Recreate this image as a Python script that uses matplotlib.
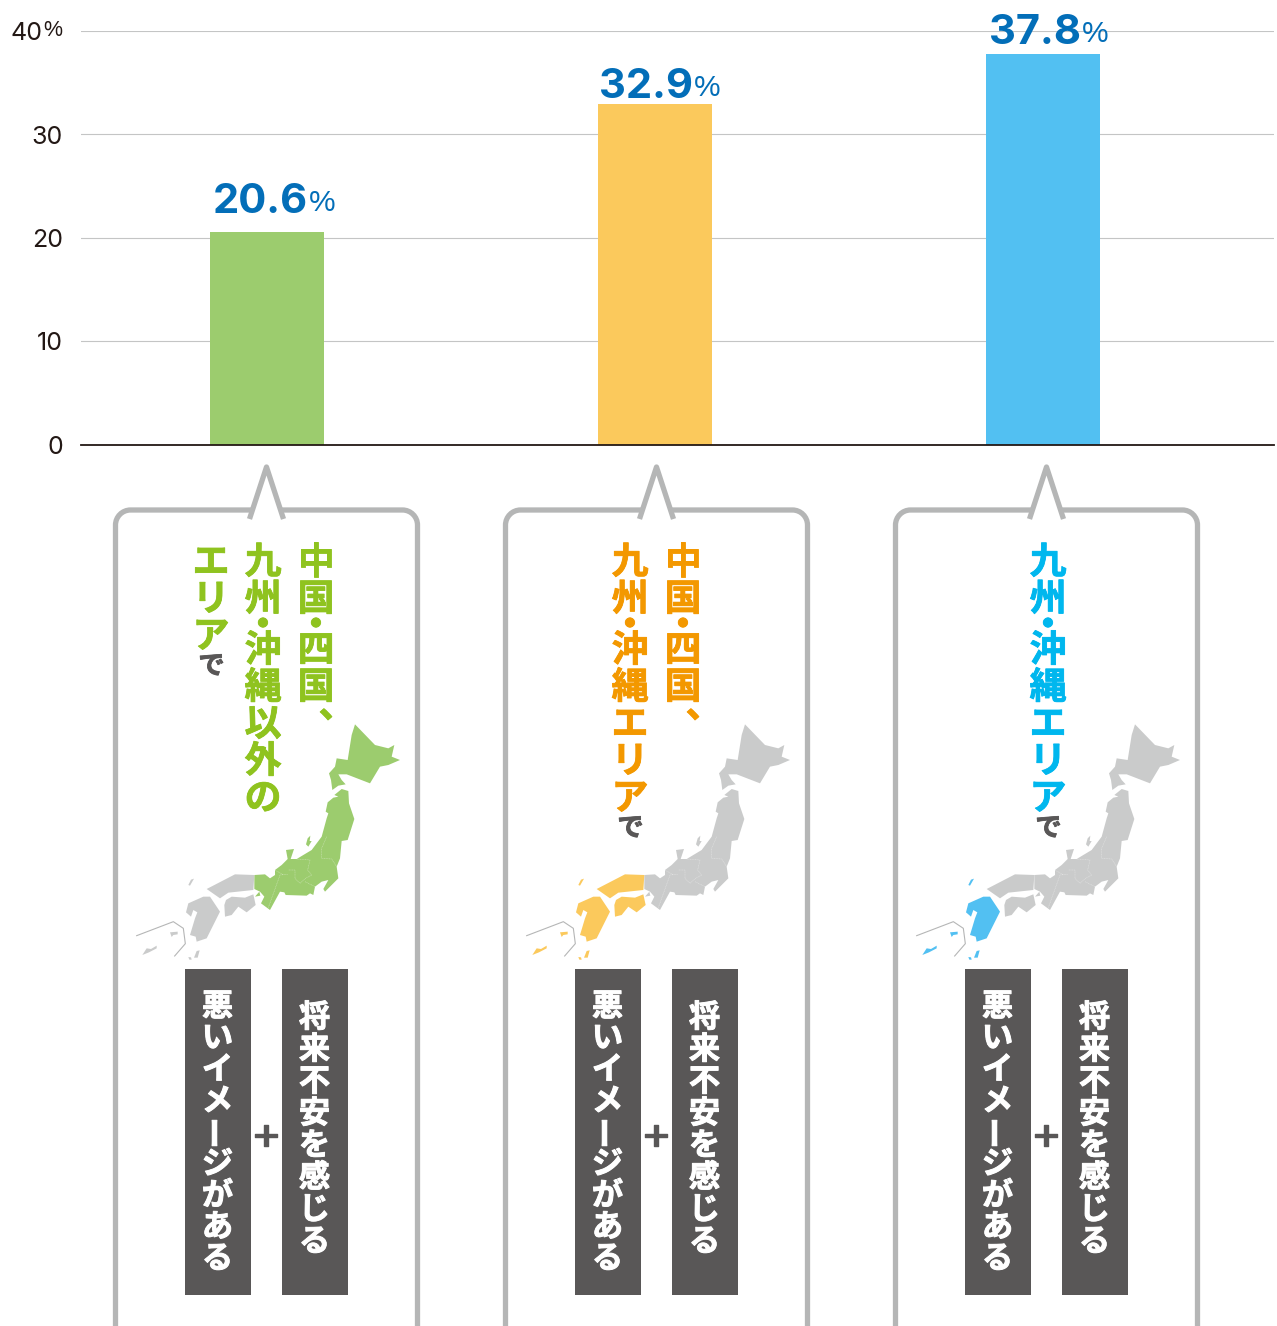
import matplotlib
matplotlib.use("Agg")
import matplotlib.pyplot as plt
import matplotlib.patheffects as pe
from matplotlib.patches import Polygon, PathPatch, Rectangle
from matplotlib.path import Path
from matplotlib.transforms import blended_transform_factory, IdentityTransform

W, H = 1277, 1326
JP = ["Noto Sans CJK JP", "DejaVu Sans"]
LATIN = "Inter"
PERCENT = "Liberation Sans"

# Chart data
regions = ["Other", "Chugoku-Shikoku-Kyushu-Okinawa", "Kyushu-Okinawa"]
rates = [20.6, 32.9, 37.8]
rate_labels = ["20.6", "32.9", "37.8"]
bar_colors = ["#9ccc6e", "#fbc95c", "#52c0f2"]
y_ticks = [0, 10, 20, 30, 40]
y_tick_labels = ["0", "10", "20", "30", "40"]

# Callout text, one list of columns per panel (right to left)
area_columns = [
    ["中国・四国、", "九州・沖縄以外の", "エリアで"],
    ["中国・四国、", "九州・沖縄エリアで"],
    ["九州・沖縄エリアで"],
]
area_colors = ["#8fc31f", "#f39800", "#00b7ee"]
cond_left = "悪いイメージがある"
cond_right = "将来不安を感じる"

GRAY_MAP = "#cacbcb"
# Map colour per panel: main island east, Chugoku + Shikoku, Kyushu + islands
map_tints = [
    ["#9ccc6e", GRAY_MAP, GRAY_MAP],
    [GRAY_MAP, "#fbc95c", "#fbc95c"],
    [GRAY_MAP, GRAY_MAP, "#52c0f2"],
]

# Outline of the Japan map, in units of 1/3 px
HOKKAIDO = [(690, 28), (750, 90), (790, 100), (808, 90), (800, 125), (825, 135), (790, 150),
            (765, 155), (735, 205), (665, 178), (640, 178), (650, 195), (662, 208), (640, 212),
            (622, 225), (618, 195), (612, 175), (630, 155), (635, 130), (668, 135), (680, 60)]
HONSHU_EAST = [(628, 240), (650, 222), (670, 228), (672, 265), (688, 312), (668, 375), (650, 378),
               (645, 430), (635, 455), (640, 490), (600, 530), (595, 522), (610, 495), (590, 500),
               (570, 515), (565, 540), (555, 535), (545, 542), (482, 540), (478, 532), (465, 530),
               (435, 585), (408, 565), (418, 545), (405, 530), (388, 522), (388, 480), (420, 478),
               (435, 490), (450, 480), (450, 465), (470, 450), (488, 432), (483, 405), (507, 402),
               (497, 432), (515, 432), (560, 405), (590, 365), (605, 310), (610, 295), (602, 290),
               (608, 262), (625, 248), (640, 245)]
SADO = [(543, 388), (548, 370), (556, 362), (554, 378), (560, 378), (550, 395)]
AWAJI = [(390, 545), (403, 530), (406, 542)]
CHUGOKU = [(388, 480), (330, 478), (245, 522), (285, 550), (310, 533), (385, 525)]
SHIKOKU = [(298, 570), (303, 555), (320, 545), (360, 548), (385, 538), (392, 570), (365, 592),
           (340, 575), (320, 600), (300, 605)]
KYUSHU = [(183, 592), (190, 565), (235, 545), (255, 545), (285, 590), (245, 670), (215, 680),
          (212, 665), (195, 660), (210, 610), (217, 592), (205, 585), (198, 605)]
TSUSHIMA = [(190, 510), (198, 494), (207, 491), (195, 512)]
ISLES = [
    [(135, 652), (158, 650), (158, 658), (145, 660), (140, 666)],
    [(52, 720), (65, 700), (78, 702), (95, 692), (95, 700), (72, 712)],
    [(207, 728), (215, 708), (224, 706), (218, 728)],
    [(190, 726), (198, 727), (200, 734), (193, 734)],
]
OKINAWA_FRAME = [(35, 662), (145, 620), (175, 640), (181, 686), (149, 723)]
PREF_LINES = [
    [(605, 365), (590, 400), (590, 430), (620, 432), (635, 455)],
    [(430, 578), (465, 480), (488, 478)],
    [(515, 432), (555, 435), (548, 465), (560, 480), (542, 490), (525, 505), (510, 490),
     (510, 465), (490, 465)],
    [(540, 500), (570, 515)],
    [(450, 465), (475, 480)],
]

fig = plt.figure(figsize=(W / 100, H / 100), dpi=100, facecolor="white")

# Bar chart
ax = fig.add_axes([81 / W, 1 - 445 / H, (1274 - 81) / W, (445 - 31) / H])
ax.set_xlim(-0.4794, 2.5954)
ax.set_ylim(0, 40)
ax.bar(range(len(rates)), rates, width=0.294, color=bar_colors, zorder=3)
ax.set_xticks([])
ax.set_yticks(y_ticks)
ax.set_yticklabels(y_tick_labels, fontfamily=LATIN, fontsize=18, color="#231815")
ax.tick_params(axis="y", length=0, pad=13)
ax.yaxis.get_major_ticks()[-1].set_pad(28)
ax.grid(axis="y", color="#c4c5c5", lw=0.8, zorder=0)
ax.set_axisbelow(True)
for side in ("top", "left", "right"):
    ax.spines[side].set_visible(False)
ax.spines["bottom"].set_color("#231815")
ax.spines["bottom"].set_linewidth(1.3)
ax.spines["bottom"].set_zorder(5)
ax.patch.set_alpha(0)
ax.text(43, 40, "%", transform=blended_transform_factory(IdentityTransform(), ax.transData),
        fontfamily=PERCENT, fontsize=15.5, color="#231815", ha="left", va="center", clip_on=False)

# Overlay in pixel coordinates for the callouts and value labels
ov = fig.add_axes([0, 0, 1, 1], zorder=10)
ov.set_xlim(0, W)
ov.set_ylim(H, 0)
ov.axis("off")

# Value labels above the bars
value_right = [308, 693, 1081]
value_base = [213, 98, 44]
for txt, xr, yb in zip(rate_labels, value_right, value_base):
    ov.text(xr, yb, txt, fontfamily=LATIN, fontweight="bold", fontsize=30, color="#036eb8",
            ha="right", va="baseline")
    ov.text(xr + 1, yb - 2, "%", fontfamily=PERCENT, fontsize=21.5, color="#036eb8",
            ha="left", va="baseline")


def heavy(color, width=0.6):
    return [pe.withStroke(linewidth=width, foreground=color)]


def glyph(x, y, ch, color, size, rotation=0, width=0.6):
    ov.text(x, y, ch, fontfamily=JP, fontweight="bold", fontsize=size, color=color, ha="center",
            va="center", rotation=rotation, path_effects=heavy(color, width))


def area_column(x, text, color):
    """Set one area heading top to bottom; the middle dot and final で sit tighter."""
    y = 563
    for i, ch in enumerate(text):
        if i > 0:
            before = text[i - 1]
            if ch == "・":
                y += 26
            elif before == "・":
                y += 25
            elif ch == "で":
                y += 29.5
            else:
                y += 37
        if ch == "、":
            glyph(x + 21, y - 18, ch, color, 26.5)
        elif ch == "で":
            glyph(x + 0.5, y, ch, "#595757", 19)
        else:
            glyph(x, y, ch, color, 26.5)


def condition_column(x, y0, text, pitch):
    for i, ch in enumerate(text):
        glyph(x, y0 + i * pitch, ch, "white", 22.5, rotation=90 if ch == "ー" else 0, width=0.7)


def draw_map(dx, tints):
    def px(points):
        return [(125 + dx + a / 3, 715 + b / 3) for a, b in points]

    east, west, south = tints
    for shape in (HOKKAIDO, HONSHU_EAST, SADO, AWAJI):
        ov.add_patch(Polygon(px(shape), closed=True, fc=east, ec="none"))
    for shape in (CHUGOKU, SHIKOKU):
        ov.add_patch(Polygon(px(shape), closed=True, fc=west, ec="none"))
    for shape in [KYUSHU, TSUSHIMA] + ISLES:
        ov.add_patch(Polygon(px(shape), closed=True, fc=south, ec="none"))
    for line in PREF_LINES:
        xs, ys = zip(*px(line))
        ov.plot(xs, ys, color="white", alpha=0.45, lw=0.4, ls=(0, (2, 1)))
    xs, ys = zip(*px(OKINAWA_FRAME))
    ov.plot(xs, ys, color="#b5b6b6", lw=0.8, solid_joinstyle="round")


def draw_callout(dx):
    left, right, top, bottom, r = 115.5 + dx, 417.5 + dx, 510, 1340, 15
    tip = 266.5 + dx
    k = 0.55 * r
    verts = [
        (tip - 14, top), (left + r, top), (left + r - k, top), (left, top + r - k), (left, top + r),
        (left, bottom),
        (right, bottom),
        (right, top + r), (right, top + r - k), (right - r + k, top), (right - r, top),
        (tip + 14, top),
    ]
    codes = [Path.MOVETO, Path.LINETO, Path.CURVE4, Path.CURVE4, Path.CURVE4, Path.LINETO,
             Path.MOVETO, Path.LINETO, Path.CURVE4, Path.CURVE4, Path.CURVE4, Path.LINETO]
    ov.add_patch(PathPatch(Path(verts, codes), fc="none", ec="#b5b6b6", lw=3.8, capstyle="butt"))
    ov.add_patch(PathPatch(
        Path([(tip - 17, top + 9), (tip, 467), (tip + 17, top + 9)],
             [Path.MOVETO, Path.LINETO, Path.LINETO]),
        fc="none", ec="#b5b6b6", lw=3.8, capstyle="butt", joinstyle="round"))


# Column centres of the area headings in each panel
column_x = [[316, 263, 211], [683, 630], [1048]]

for p in range(3):
    dx = 390 * p
    draw_callout(dx)
    draw_map(dx, map_tints[p])
    for col, x in zip(area_columns[p], column_x[p]):
        area_column(x, col, area_colors[p])
    for x0, x1, text, y0, pitch in [
        (185, 251, cond_left, 1007, 31.5),
        (282, 348, cond_right, 1018, 32.0),
    ]:
        ov.add_patch(Rectangle((x0 + dx, 969), x1 - x0, 326, fc="#595757", ec="none"))
        condition_column((x0 + x1) / 2 + dx - 0.5, y0, text, pitch)
    glyph(266 + dx, 1138, "＋", "#595757", 22, width=1.0)

fig.savefig("out.png", dpi=100, facecolor="white")
